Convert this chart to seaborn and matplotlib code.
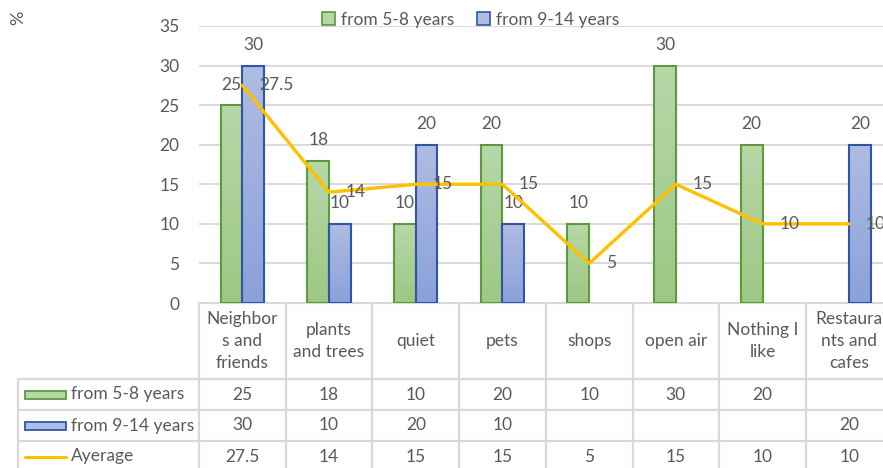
import numpy as np
import pandas as pd
import matplotlib
matplotlib.use("Agg")
import matplotlib.pyplot as plt
import seaborn as sns
from matplotlib.colors import LinearSegmentedColormap
from matplotlib.patches import Rectangle
from matplotlib.lines import Line2D

# data
categories = ["Neighbors and friends", "plants and trees", "quiet", "pets",
              "shops", "open air", "Nothing I like", "Restaurants and cafes"]
header_labels = ["Neighbor\ns and\nfriends", "plants\nand trees", "quiet", "pets",
                 "shops", "open air", "Nothing I\nlike", "Restaura\nnts and\ncafes"]
groups = ["from 5-8 years", "from 9-14 years"]
young = [25, 18, 10, 20, 10, 30, 20, np.nan]
older = [30, 10, 20, 10, np.nan, np.nan, np.nan, 20]
average = [27.5, 14, 15, 15, 5, 15, 10, 10]
average_label = "Ayerage"

# colours
txt = "#595959"
grid_c = "#D9D9D9"
green_top, green_bot, green_edge = "#B7D7A8", "#9DC884", "#5B9B3C"
blue_top, blue_bot, blue_edge = "#AFBCE3", "#8AA1D9", "#2F56A6"
line_c = "#FFC000"
fs = 12.5

sns.set_theme(style="white")
plt.rcParams["font.family"] = ["Lato", "DejaVu Sans"]
plt.rcParams["font.size"] = fs

df = pd.DataFrame({
    "category": categories * 2,
    "group": [groups[0]] * len(categories) + [groups[1]] * len(categories),
    "value": young + older,
}).dropna()

fig = plt.figure(figsize=(8.83, 4.68), dpi=100)
ax = fig.add_axes([199 / 883, 1 - 303 / 468, 693.6 / 883, 277 / 468])

sns.barplot(data=df, x="category", y="value", hue="group", order=categories,
            hue_order=groups, palette=[green_top, blue_top], saturation=1,
            width=0.5, linewidth=1.5, legend=False, ax=ax)

# gradient fill + edge colour per series
for cont, (top, bot, edge) in zip(ax.containers, [(green_top, green_bot, green_edge),
                                                  (blue_top, blue_bot, blue_edge)]):
    cmap = LinearSegmentedColormap.from_list("g", [top, bot])
    for bar in cont:
        h = bar.get_height()
        if not np.isfinite(h) or h == 0:
            continue
        x0, w = bar.get_x(), bar.get_width()
        im = ax.imshow(np.linspace(0, 1, 64).reshape(-1, 1), cmap=cmap, aspect="auto",
                       extent=[x0, x0 + w, 0, h], zorder=1.5)
        im.set_clip_path(bar)
        bar.set_facecolor("none")
        bar.set_edgecolor(edge)
        bar.set_zorder(1.6)
    ax.bar_label(cont, fmt="{:g}", padding=9, color=txt, fontsize=fs)

xs = np.arange(len(categories))
sns.lineplot(x=xs, y=average, color=line_c, lw=2.4, ax=ax, zorder=3)
for xi, v in zip(xs, average):
    ax.annotate(f"{v:g}", (xi, v), xytext=(12, 0), textcoords="offset points",
                ha="left", va="center", color=txt, fontsize=fs)

ax.set_xlim(-0.5, 7.5)
ax.set_ylim(0, 35)
ax.set_yticks(range(0, 36, 5))
ax.set_xticks([])
ax.set_xlabel("")
ax.set_ylabel("")
ax.yaxis.grid(True, color=grid_c, lw=1.4)
ax.set_axisbelow(True)
ax.tick_params(axis="y", length=0, pad=14, labelcolor=txt, labelsize=fs)
sns.despine(ax=ax, left=True, bottom=True)

fig.text(18 / 883, 1 - 18 / 468, "%", rotation=90, ha="center", va="center",
         color=txt, fontsize=13)

# legend on top
handles = [Rectangle((0, 0), 1, 1, fc=green_top, ec=green_edge, lw=1.2),
           Rectangle((0, 0), 1, 1, fc=blue_top, ec=blue_edge, lw=1.2)]
ax.legend(handles, groups, loc="center", bbox_to_anchor=(0.392, 1.022), ncol=2,
          frameon=False, handlelength=0.75, handleheight=0.75, handletextpad=0.35,
          columnspacing=1.3, fontsize=fs, labelcolor=txt, borderaxespad=0)

# data table below the plot
tr = ax.get_xaxis_transform()


def py(p):
    return (303 - p) / 277


def px(p):
    return -0.5 + (p - 199) / 86.7


lk = dict(color=grid_c, lw=1.6, transform=tr, clip_on=False, zorder=0.5)
ax.plot([-0.5, 8.5], [0, 0], **lk)
for p in [379, 410, 441, 472]:
    ax.plot([px(18), 8.5], [py(p), py(p)], **lk)
for i in range(9):
    ax.plot([i - 0.5, i - 0.5], [0, py(472)], **lk)
ax.plot([px(18), px(18)], [py(379), py(472)], **lk)

for i, lab in enumerate(header_labels):
    ax.text(i, py(341), lab, ha="center", va="center", linespacing=1.45,
            color=txt, fontsize=fs, transform=tr)

rows = [(groups[0], young), (groups[1], older), (average_label, average)]
centers = [394.5, 425.5, 456.5]
for (name, vals), c in zip(rows, centers):
    ax.text(px(71), py(c), name, ha="left", va="center", color=txt, fontsize=fs,
            transform=tr)
    for i, v in enumerate(vals):
        if np.isfinite(v):
            ax.text(i, py(c), f"{v:g}", ha="center", va="center", color=txt,
                    fontsize=fs, transform=tr)

sw_w = px(66) - px(25)
for (top, edge), c in zip([(green_top, green_edge), (blue_top, blue_edge)], centers[:2]):
    ax.add_patch(Rectangle((px(25), py(c + 4)), sw_w, 8 / 277, fc=top, ec=edge,
                           lw=1.3, transform=tr, clip_on=False))
ax.add_line(Line2D([px(25), px(66)], [py(centers[2]), py(centers[2])], color=line_c,
                   lw=2.2, transform=tr, clip_on=False))

fig.savefig("out.png", dpi=100)
